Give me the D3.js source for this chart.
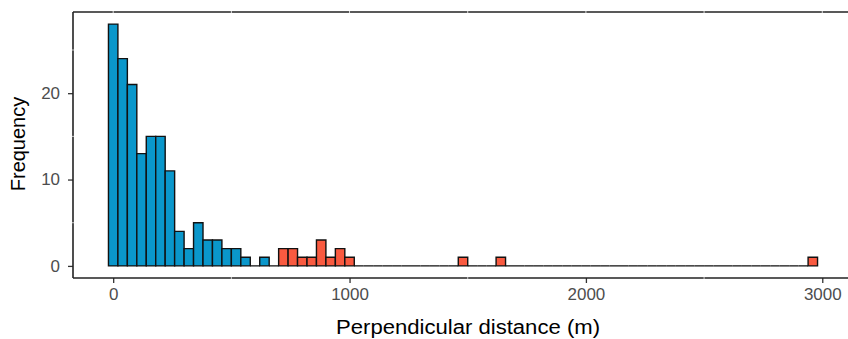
<!DOCTYPE html>
<html lang="en">
    <head>
        <meta charset="utf-8">
        <title>Perpendicular distance histogram</title>
        <script src="https://d3js.org/d3.v7.min.js"></script>
        <style>
            body { margin: 0; background: #fff; }
            svg text { font-family: "Liberation Sans", Arial, sans-serif; }
        </style>
    </head>

    <body>
        <div id="chart"></div>

        <script>
            // bin centres (m), width 40 m
            var binWidth = 40;
            var binCenters = d3.range(0, 3000, binWidth);
            // counts per bin
            var counts = [28, 24, 21, 13, 15, 15, 11, 4, 2, 5, 3, 3, 2, 2, 1, 0, 1, 0,
                          2, 2, 1, 1, 3, 1, 2, 1,
                          0, 0, 0, 0, 0, 0, 0, 0, 0, 0, 0,
                          1, 0, 0, 0, 1,
                          0, 0, 0, 0, 0, 0, 0, 0, 0, 0, 0, 0, 0, 0, 0, 0,
                          0, 0, 0, 0, 0, 0, 0, 0, 0, 0, 0, 0, 0, 0, 0, 0,
                          1];
            // distances beyond this are coloured as the "far" group
            var farFrom = 700;
            var groupColors = { near: "#0a97cb", far: "#f95a40" };

            var xTicks = [0, 1000, 2000, 3000];
            var yTicks = [0, 10, 20];

            var W = 848, H = 339;
            var pLeft = 73, pTop = 12, pBottom = 278, pRight = 853;
            var stretch = 1.06;   // the picture is a little wide

            var svg = d3.select("#chart").append("svg")
                        .attr("width", W)
                        .attr("height", H);

            var dataset = binCenters.map(function(c, i){
                return { x0: c - binWidth/2, x1: c + binWidth/2, n: counts[i],
                         group: c < farFrom ? "near" : "far" };
            });

            var x = d3.scaleLinear().domain([-170, 3130]).range([pLeft, pRight]);
            var y = d3.scaleLinear().domain([-1.4, 29.4]).range([pBottom, pTop]);

            // bars as closed paths, so empty bins still leave their outline on the baseline
            svg.append("g")
                .selectAll("path")
                .data(dataset)
                .enter()
                .append("path")
                .attr("d", function(d){
                    var p = d3.path();
                    p.moveTo(x(d.x0), y(0));
                    p.lineTo(x(d.x0), y(d.n));
                    p.lineTo(x(d.x1), y(d.n));
                    p.lineTo(x(d.x1), y(0));
                    p.closePath();
                    return p.toString();
                })
                .style("fill", function(d){ return groupColors[d.group]; })
                .style("stroke", "#111")
                .style("stroke-width", 1.4);

            // x axis
            var gx = svg.append("g")
                .attr("transform", "translate(0," + pBottom + ")")
                .call(d3.axisBottom(x).tickValues(xTicks).tickSize(5).tickPadding(6).tickFormat(d3.format("d")));
            gx.select(".domain").remove();
            gx.append("line").attr("x1", pLeft).attr("x2", W).attr("stroke", "#222").attr("stroke-width", 1.6);

            // y axis
            var gy = svg.append("g")
                .attr("transform", "translate(" + pLeft + ",0)")
                .call(d3.axisLeft(y).tickValues(yTicks).tickSize(5).tickPadding(8));
            gy.select(".domain").remove();
            gy.append("line").attr("y1", pTop).attr("y2", pBottom).attr("stroke", "#222").attr("stroke-width", 1.6);

            // top border
            svg.append("line")
                .attr("x1", pLeft).attr("x2", W)
                .attr("y1", pTop).attr("y2", pTop)
                .attr("stroke", "#222").attr("stroke-width", 1.6);

            svg.selectAll(".tick line").attr("stroke", "#333").attr("stroke-width", 1.3);
            svg.selectAll(".tick text")
                .attr("fill", "#4d4d4d")
                .style("font-size", "16px");

            // faint gaps left by the hidden grid
            svg.append("g").selectAll("line")
                .data(d3.range(0, 3001, 500))
                .enter().append("line")
                .attr("x1", function(d){ return x(d); })
                .attr("x2", function(d){ return x(d); })
                .attr("y1", pTop - 1).attr("y2", pTop + 1)
                .attr("stroke", "#fff").attr("stroke-opacity", 0.8);
            svg.append("g").selectAll("line")
                .data([500, 1500, 2500])
                .enter().append("line")
                .attr("x1", function(d){ return x(d); })
                .attr("x2", function(d){ return x(d); })
                .attr("y1", pBottom - 1).attr("y2", pBottom + 1)
                .attr("stroke", "#fff").attr("stroke-opacity", 0.7);
            svg.append("g").selectAll("line")
                .data([5, 15, 25])
                .enter().append("line")
                .attr("x1", pLeft - 1).attr("x2", pLeft + 1)
                .attr("y1", function(d){ return y(d); })
                .attr("y2", function(d){ return y(d); })
                .attr("stroke", "#fff").attr("stroke-opacity", 0.7);

            // axis titles
            svg.append("text")
                .attr("class", "title")
                .attr("text-anchor", "middle")
                .attr("x", 468)
                .attr("y", 334)
                .style("font-size", "20px")
                .text("Perpendicular distance (m)");

            svg.append("text")
                .attr("transform", "translate(25,144) rotate(-90)")
                .attr("text-anchor", "middle")
                .style("font-size", "20px")
                .text("Frequency");

            // widen horizontal text to match the picture
            svg.selectAll(".tick text").each(function(){
                var len = this.getComputedTextLength();
                d3.select(this).attr("textLength", len * stretch).attr("lengthAdjust", "spacingAndGlyphs");
            });
            svg.select("text.title").attr("textLength", 264).attr("lengthAdjust", "spacingAndGlyphs");
        </script>
    </body>
</html>
